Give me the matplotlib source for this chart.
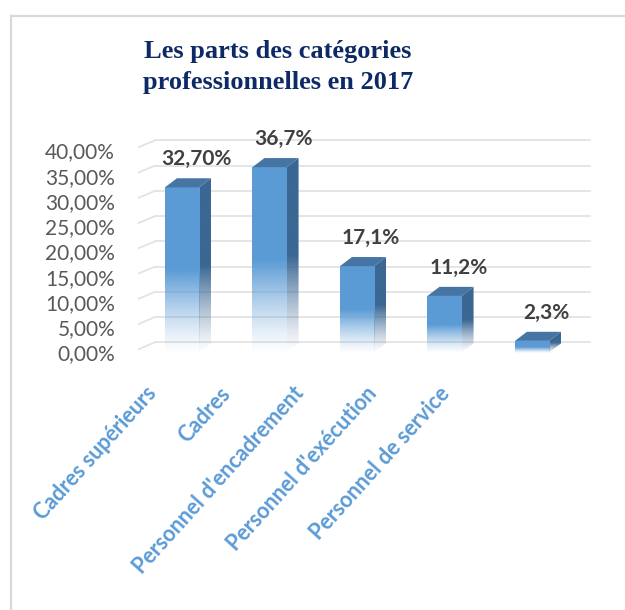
import matplotlib.pyplot as plt
import numpy as np
from matplotlib.patches import Polygon
from matplotlib.colors import to_rgb
from matplotlib.lines import Line2D

categories = ['Cadres supérieurs', 'Cadres', "Personnel d'encadrement",
              "Personnel d'exécution", 'Personnel de service']
shares = [32.7, 36.7, 17.1, 11.2, 2.3]
value_labels = ['32,70%', '36,7%', '17,1%', '11,2%', '2,3%']
yticks = [0, 5, 10, 15, 20, 25, 30, 35, 40]
ytick_labels = ['0,00%', '5,00%', '10,00%', '15,00%', '20,00%',
                '25,00%', '30,00%', '35,00%', '40,00%']
title = 'Les parts des catégories\nprofessionnelles en 2017'

front_col = '#5B9BD5'
side_col = '#3B6793'
top_col = '#4674A3'
grid_col = '#E3E3E3'

W, H = 625, 610
fig = plt.figure(figsize=(W / 100, H / 100), dpi=100)

# chart border
fig.add_artist(Line2D([11 / W, 1], [1 - 16 / H, 1 - 16 / H], color='#D9D9D9', lw=1.6))
fig.add_artist(Line2D([11 / W, 11 / W], [0, 1 - 16 / H], color='#D9D9D9', lw=1.6))

ax = fig.add_axes([138 / W, 1 - 360 / H, 462 / W, 240 / H])
for s in ax.spines.values():
    s.set_visible(False)

half = 0.195   # half width of front face (data units)
ddx = 0.137    # depth offset x
ddy = 1.8      # depth offset y


def fade(color, n=256):
    rgb = to_rgb(color)
    t = np.linspace(0, 1, n)
    a = np.clip(0.02 + t / 0.5 * 0.98, 0, 1) ** 1.3
    img = np.zeros((n, 1, 4))
    img[:, 0, :3] = rgb
    img[:, 0, 3] = a
    return img


# back wall gridlines + left side wall segment
for t in yticks:
    ax.plot([-0.309, 4.663], [t + 2.0, t + 2.0], color=grid_col, lw=1.3, zorder=0)
    ax.plot([-0.503, -0.309], [t + 0.6, t + 2.0], color=grid_col, lw=1.3, zorder=0)

for i, v in enumerate(shares):
    x0, x1 = i - half, i + half
    # side face
    side = Polygon([(x1, 0), (x1 + ddx, ddy), (x1 + ddx, v + ddy), (x1, v)],
                   closed=True, facecolor='none', edgecolor='none')
    ax.add_patch(side)
    im = ax.imshow(fade(side_col), extent=(x1, x1 + ddx, 0, v + ddy), origin='lower',
                   aspect='auto', interpolation='bilinear', zorder=2)
    im.set_clip_path(side)
    # front face
    ax.imshow(fade(front_col), extent=(x0, x1, 0, v), origin='lower',
              aspect='auto', interpolation='bilinear', zorder=3)
    # top face
    ax.add_patch(Polygon([(x0, v), (x0 + ddx, v + ddy), (x1 + ddx, v + ddy), (x1, v)],
                         closed=True, facecolor=top_col, edgecolor='none', zorder=4))
    ax.text(i + 0.16, v + 4.4, value_labels[i], ha='center', va='baseline',
            fontsize=15, fontweight='bold', color='#404040', family='Lato', zorder=5)
    # category label
    ax.text(i * 0.838 - 0.33, -7.4, categories[i], rotation=48, rotation_mode='anchor',
            ha='right', va='center', fontsize=15.5, fontweight='bold', color=front_col,
            family='Lato', clip_on=False)

ax.set_xlim(-0.503, 4.777)
ax.set_ylim(-1.485, 46.04)
ax.set_xticks([])
ax.set_yticks(yticks)
ax.set_yticklabels(ytick_labels, fontsize=15, color='#595959', family='Lato')
ax.tick_params(axis='y', length=0, pad=16.5)
ax.set_facecolor('none')

fig.text(278 / W, 1 - 67 / H, title, ha='center', va='center', fontsize=19,
         fontweight='bold', color='#0E2A66', family='Liberation Serif', linespacing=1.45)

fig.savefig('out.png', dpi=100)
